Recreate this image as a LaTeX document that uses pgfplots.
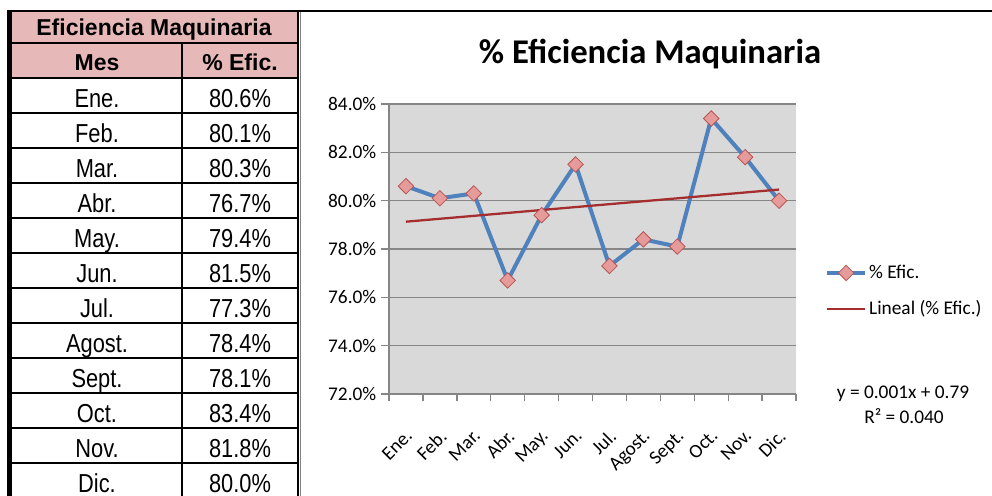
\documentclass[border=0pt]{standalone}
\usepackage{pgfplots}
\pgfplotsset{compat=1.18}
\usepackage{pgfplotstable}
\usepackage{fontspec}
\setmainfont{Carlito}
\newfontfamily\tabnarrow[FakeStretch=0.84]{Liberation Sans}
\newfontfamily\tabhead{Liberation Sans}
\definecolor{hdr}{RGB}{230,184,183}
\definecolor{serie}{RGB}{79,129,189}
\definecolor{mkfill}{RGB}{230,155,155}
\definecolor{mkdraw}{RGB}{185,85,85}
\definecolor{trend}{RGB}{165,45,45}
\definecolor{plotbg}{RGB}{217,217,217}
\definecolor{gridc}{RGB}{134,134,134}
\definecolor{framec}{RGB}{128,128,128}

\pgfplotstableread{
x y
1 80.6
2 80.1
3 80.3
4 76.7
5 79.4
6 81.5
7 77.3
8 78.4
9 78.1
10 83.4
11 81.8
12 80.0
}\datatable
\pgfplotstableread{
x y
1 79.13
12 80.46
}\trendtable

\begin{document}
\begin{tikzpicture}
\path[use as bounding box] (0,0) rectangle (744pt,-372pt);
\begin{scope}[x=0.75pt,y=-0.75pt]
 \fill[hdr] (10,11) rectangle (298,78);
 \draw[framec, line width=0.75pt] (300.5,11) -- (300.5,500);
 \foreach \yy in {43,78,113,...,463} \draw[black,line width=1.1pt] (10,\yy) -- (298,\yy);
 \draw[black,line width=1.1pt] (182,43) -- (182,500);
 \draw[black,line width=1.1pt] (298,11) -- (298,500);
 \draw[black,line width=3.5pt] (9.5,10) -- (9.5,500);
 \draw[black,line width=2.2pt] (8,11) -- (992,11);
 \node[anchor=base, font=\tabhead\bfseries\fontsize{17.25}{20}\selectfont, inner sep=0pt] at (154,36) {Eficiencia Maquinaria};
 \node[anchor=base, font=\tabhead\bfseries\fontsize{17.25}{20}\selectfont, inner sep=0pt] at (97,70) {Mes};
 \node[anchor=base, font=\tabhead\bfseries\fontsize{17.25}{20}\selectfont, inner sep=0pt] at (240,70) {\% Efic.};
 \foreach \m/\v [count=\i from 0] in {Ene./80.6,Feb./80.1,Mar./80.3,Abr./76.7,May./79.4,Jun./81.5,Jul./77.3,Agost./78.4,Sept./78.1,Oct./83.4,Nov./81.8,Dic./80.0} {
   \node[anchor=base, font=\tabnarrow\fontsize{19.5}{22}\selectfont, inner sep=0pt] at (97,107+35*\i) {\m};
   \node[anchor=base, font=\tabnarrow\fontsize{19.5}{22}\selectfont, inner sep=0pt] at (240,107+35*\i) {\v\%};
 }
 \node[anchor=base, font=\bfseries\fontsize{26}{30}\selectfont, inner sep=0pt] at (650,63) {\% Eficiencia Maquinaria};
 \node[anchor=base, font=\fontsize{14.5}{17}\selectfont, inner sep=0pt] at (903,398) {y = 0.001x + 0.79};
 \node[anchor=base, font=\fontsize{14.5}{17}\selectfont, inner sep=0pt] at (904,423) {R² = 0.040};
\end{scope}
\begin{axis}[
  at={(291.75pt,-295.5pt)}, anchor=south west,
  scale only axis, width=305.25pt, height=217.5pt,
  xmin=0.5, xmax=12.5, ymin=72, ymax=84,
  axis background/.style={fill=plotbg},
  axis x line*=bottom, axis y line*=left,
  axis line style={gridc, line width=1pt, -},
  ytick={72,74,...,84},
  ymajorgrids, major grid style={gridc, line width=1pt},
  /pgf/number format/assume math mode=true,
  yticklabel={\pgfmathprintnumber[fixed,fixed zerofill,precision=1]{\tick}\%},
  xtick={1,...,12},
  xticklabels={Ene.,Feb.,Mar.,Abr.,May.,Jun.,Jul.,Agost.,Sept.,Oct.,Nov.,Dic.},
  minor xtick={0.5,1.5,...,12.5},
  tick align=outside,
  major tick length=6pt,
  minor tick length=5.5pt,
  every tick/.style={gridc, line width=1pt},
  major x tick style={draw=none},
  tick label style={font=\fontsize{14.5}{17}\selectfont},
  xticklabel style={xshift=-1pt, yshift=-18pt, rotate=45, anchor=north east, inner sep=1pt},
  legend style={at={(1.071,0.355)}, anchor=west, draw=none, fill=none,
    font=\fontsize{14.5}{17}\selectfont, row sep=12pt, inner sep=0pt,
    nodes={inner sep=1.5pt}},
  legend cell align=left,
  legend image code/.code={\draw[mark repeat=2,mark phase=2,#1] plot coordinates {(0pt,0pt) (14.25pt,0pt) (28.5pt,0pt)};},
  clip=false,
]
\addplot[serie, line width=3pt, mark=square*, mark size=4.1pt,
  mark options={rotate=45, fill=mkfill, draw=mkdraw, line width=0.6pt, solid}]
  table[x=x,y=y]{\datatable};
\addplot[trend, line width=1.7pt] table[x=x,y=y]{\trendtable};
\legend{\% Efic., Lineal (\% Efic.)}
\end{axis}
\end{tikzpicture}
\end{document}
